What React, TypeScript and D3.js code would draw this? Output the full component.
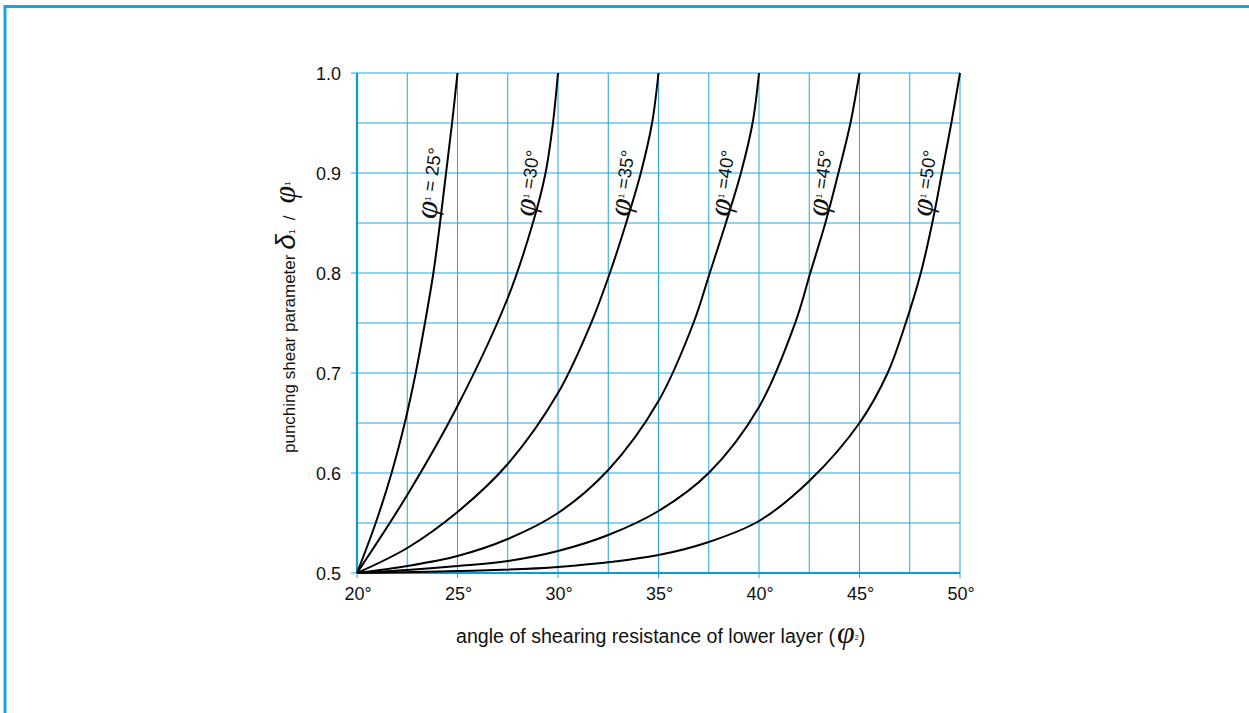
import React from "react";
import * as d3 from "d3";

// ---- data ----
const phi2Domain = [20, 50];
const ratioDomain = [0.5, 1.0];
const xGridValues = [20, 22.5, 25, 27.5, 30, 32.5, 35, 37.5, 40, 42.5, 45, 47.5, 50];
const yGridValues = [0.5, 0.55, 0.6, 0.65, 0.7, 0.75, 0.8, 0.85, 0.9, 0.95, 1.0];
const xTickValues = [20, 25, 30, 35, 40, 45, 50];
const xTickLabels = ["20°", "25°", "30°", "35°", "40°", "45°", "50°"];
const yTickValues = [0.5, 0.6, 0.7, 0.8, 0.9, 1.0];
const yTickLabels = ["0.5", "0.6", "0.7", "0.8", "0.9", "1.0"];

const phi1Values = [25, 30, 35, 40, 45, 50];
const labelTexts = [" = 25°", " =30°", " =35°", " =40°", " =45°", " =50°"];

const curve25: [number, number][] = [
  [20, 0.5], [20.93, 0.55], [21.72, 0.6], [22.4, 0.652], [22.92, 0.7], [23.38, 0.75],
  [23.8, 0.8], [24.13, 0.85], [24.43, 0.9], [24.73, 0.95], [25, 1.0],
];
const curve30: [number, number][] = [
  [20, 0.5], [22.5, 0.578], [25, 0.667], [27.5, 0.775], [28.75, 0.85],
  [29.38, 0.9], [29.75, 0.95], [30, 1.0],
];
const curve35: [number, number][] = [
  [20, 0.5], [22.5, 0.525], [25, 0.561], [27.5, 0.609], [30, 0.68], [31.65, 0.75],
  [32.58, 0.8], [33.39, 0.85], [34.12, 0.9], [34.68, 0.95], [35, 1.0],
];
const curve40: [number, number][] = [
  [20, 0.5], [22.5, 0.507], [25, 0.517], [27.5, 0.534], [30, 0.56], [32.5, 0.603],
  [35, 0.672], [36.74, 0.75], [37.55, 0.8], [38.35, 0.85], [39.1, 0.9], [39.68, 0.95],
  [40, 1.0],
];
const curve45: [number, number][] = [
  [20, 0.5], [22.5, 0.503], [25, 0.507], [27.5, 0.512], [30, 0.522], [32.5, 0.538],
  [35, 0.562], [37.5, 0.6], [40, 0.666], [41.8, 0.75], [42.55, 0.8], [43.3, 0.85],
  [43.95, 0.9], [44.55, 0.95], [45, 1.0],
];
const curve50: [number, number][] = [
  [20, 0.5], [25, 0.502], [30, 0.506], [35, 0.518], [37.5, 0.531], [40, 0.552],
  [42.5, 0.592], [45, 0.65], [46.4, 0.7], [47.3, 0.75], [48.05, 0.8], [48.62, 0.85],
  [49.1, 0.9], [49.57, 0.95], [50, 1.0],
];
const curves = [curve25, curve30, curve35, curve40, curve45, curve50];
const labelRatio = 0.89;

// ---- styles ----
const W = 1249;
const H = 713;
const FONT = "'Liberation Sans', Arial, Helvetica, sans-serif";
const PHI_FONT = "'Liberation Serif', serif";
const GRID = "#1fa6e0";
const AXIS = "#0a9bd9";
const FRAME = "#12a6e6";

function xAtRatio(data: [number, number][], r: number): number {
  for (let i = 1; i < data.length; i++) {
    const [x0, y0] = data[i - 1];
    const [x1, y1] = data[i];
    if (r >= y0 && r <= y1) {
      const t = (r - y0) / (y1 - y0);
      return x0 + t * (x1 - x0);
    }
  }
  return data[data.length - 1][0];
}

export default function App() {
  const x = d3.scaleLinear().domain(phi2Domain).range([357, 960]);
  const y = d3.scaleLinear().domain(ratioDomain).range([573, 73]);
  const line = d3
    .line<[number, number]>()
    .x((d) => x(d[0]))
    .y((d) => y(d[1]))
    .curve(d3.curveCatmullRom.alpha(0.5));

  const x0 = x(phi2Domain[0]);
  const x1 = x(phi2Domain[1]);
  const y0 = y(ratioDomain[0]);
  const y1 = y(ratioDomain[1]);

  return (
    <svg
      width={W}
      height={H}
      style={{ position: "absolute", left: 0, top: 0, background: "#fff" }}
      fontFamily={FONT}
    >
      <rect x={0} y={0} width={W} height={H} fill="#fff" />
      {/* outer frame, open to the right and bottom */}
      <rect x={5} y={6.5} width={1400} height={900} fill="none" stroke={FRAME} strokeWidth={3} />

      {/* grid */}
      {xGridValues.map((v) => (
        <line key={"gx" + v} x1={x(v)} x2={x(v)} y1={y1} y2={y0} stroke={GRID} strokeWidth={1} />
      ))}
      {yGridValues.map((v) => (
        <line key={"gy" + v} x1={x0} x2={x1} y1={y(v)} y2={y(v)} stroke={GRID} strokeWidth={1} />
      ))}

      {/* tick marks */}
      {yTickValues.map((v) => (
        <line key={"ty" + v} x1={x0 - 6} x2={x0} y1={y(v)} y2={y(v)} stroke={GRID} strokeWidth={1} />
      ))}
      {xTickValues.map((v) => (
        <line key={"tx" + v} x1={x(v)} x2={x(v)} y1={y0} y2={y0 + 5} stroke={GRID} strokeWidth={1} />
      ))}

      {/* axes */}
      <line x1={x0} x2={x0} y1={y1} y2={y0} stroke={AXIS} strokeWidth={2.2} />
      <line x1={x0} x2={x1} y1={y0} y2={y0} stroke={AXIS} strokeWidth={2.2} />

      {/* tick labels */}
      {yTickValues.map((v, i) => (
        <text key={"ly" + v} x={x0 - 16} y={y(v) + 6.5} textAnchor="end" fontSize={18} fill="#111">
          {yTickLabels[i]}
        </text>
      ))}
      {xTickValues.map((v, i) => (
        <text key={"lx" + v} x={x(v) + 1} y={600} textAnchor="middle" fontSize={18} fill="#111">
          {xTickLabels[i]}
        </text>
      ))}

      {/* curves */}
      {curves.map((c, i) => (
        <path key={"c" + i} d={line(c) || ""} fill="none" stroke="#000" strokeWidth={2} />
      ))}

      {/* curve labels */}
      {curves.map((c, i) => {
        const cx = x(xAtRatio(c, labelRatio)) - 15;
        const cy = y(labelRatio);
        return (
          <text
            key={"lab" + i}
            transform={`translate(${cx},${cy}) rotate(-82)`}
            textAnchor="middle"
            dominantBaseline="central"
            fontSize={18.5}
            fill="#111"
          >
            <tspan fontStyle="italic" fontSize={32} fontFamily={PHI_FONT}>φ</tspan>
            <tspan fontSize={8}>1</tspan>
            <tspan>{labelTexts[i]}</tspan>
          </text>
        );
      })}

      {/* y axis title */}
      <text transform="translate(295,453) rotate(-90)" textAnchor="start" fontSize={17} fill="#111">
        punching shear parameter{" "}
        <tspan fontStyle="italic" fontSize={28}>δ</tspan>
        <tspan fontSize={9}>1</tspan>
        <tspan dx={9}>/</tspan>
        <tspan fontStyle="italic" fontSize={32} fontFamily={PHI_FONT} dx={12}>φ</tspan>
        <tspan fontSize={8} dy={-5}>1</tspan>
      </text>

      {/* x axis title */}
      <text x={456} y={643} textAnchor="start" fontSize={19.6} fill="#111">
        angle of shearing resistance of lower layer (
        <tspan fontStyle="italic" fontSize={32} fontFamily={PHI_FONT} dx={2}>φ</tspan>
        <tspan fontSize={7} dy={-3}>2</tspan>
        <tspan dy={3}>)</tspan>
      </text>
    </svg>
  );
}
